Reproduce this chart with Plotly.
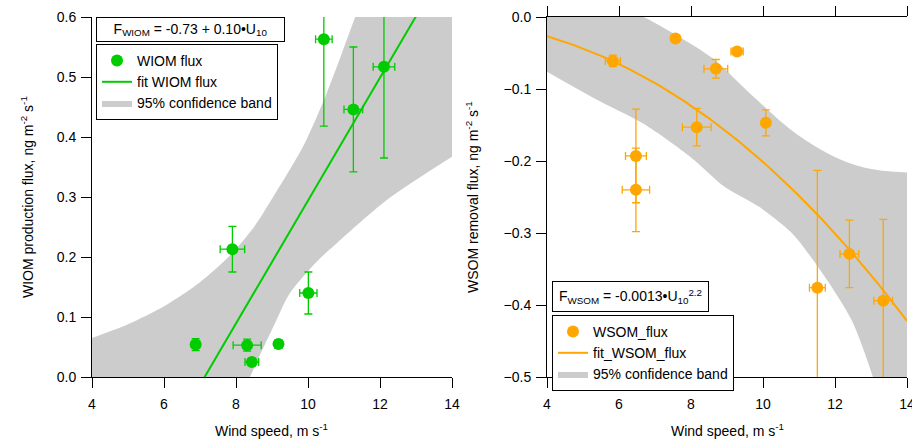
import plotly.graph_objects as go
import numpy as np

# ---------------- data ----------------
# Left panel: WIOM production flux
wiom_wind = [6.88, 7.90, 8.31, 8.44, 9.18, 10.01, 10.44, 11.26, 12.11]
wiom_flux = [0.054, 0.213, 0.053, 0.025, 0.055, 0.140, 0.563, 0.446, 0.517]
wiom_flux_err = [0.010, 0.038, 0.010, 0.006, 0.007, 0.035, 0.145, 0.104, 0.152]
wiom_wind_err = [0.05, 0.34, 0.39, 0.19, 0.06, 0.24, 0.23, 0.26, 0.30]

WIOM_FIT_A = -0.730     # intercept
WIOM_FIT_B = 0.1024     # slope

wiom_band_up_x = [4.0, 5.0, 6.0, 7.0, 7.87, 8.5, 9.0, 9.87, 10.52, 11.31, 12.0, 13.0, 14.0]
wiom_band_up_y = [0.065, 0.088, 0.118, 0.158, 0.205, 0.250, 0.297, 0.385, 0.473, 0.600, 0.714, 0.880, 1.050]
wiom_band_lo_x = [4.0, 6.0, 7.0, 7.8, 8.39, 9.04, 9.5, 10.29, 10.8, 12.19, 14.0]
wiom_band_lo_y = [-0.72, -0.40, -0.23, -0.09, 0.0, 0.084, 0.140, 0.195, 0.223, 0.295, 0.367]

# Right panel: WSOM removal flux
wsom_wind = [5.83, 6.47, 6.47, 7.57, 8.16, 8.69, 9.28, 10.08, 11.51, 12.40, 13.34]
wsom_flux = [-0.061, -0.193, -0.240, -0.030, -0.153, -0.072, -0.048, -0.147, -0.376, -0.329, -0.394]
wsom_flux_err = [0.008, 0.065, 0.058, 0.003, 0.026, 0.013, 0.005, 0.018, 0.163, 0.047, 0.113]
wsom_wind_err = [0.21, 0.29, 0.38, 0.03, 0.40, 0.33, 0.17, 0.08, 0.22, 0.26, 0.26]

WSOM_FIT_A = -0.00127
WSOM_FIT_N = 2.2

wsom_band_up_x = [4.0, 5.0, 6.0, 6.68, 7.69, 8.62, 9.55, 10.47, 11.0, 11.6, 12.2, 12.8, 13.4, 14.0]
wsom_band_up_y = [0.040, 0.030, 0.013, 0.0, -0.028, -0.058, -0.102, -0.144, -0.165, -0.184, -0.199, -0.209, -0.214, -0.216]
wsom_band_lo_x = [4.0, 5.28, 6.67, 8.0, 8.94, 9.87, 10.8, 11.72, 12.46, 13.02, 14.0]
wsom_band_lo_y = [-0.076, -0.112, -0.148, -0.195, -0.236, -0.263, -0.300, -0.361, -0.421, -0.495, -0.66]

x_ticks = [4, 6, 8, 10, 12, 14]
wiom_y_ticks = [0.0, 0.1, 0.2, 0.3, 0.4, 0.5, 0.6]
wsom_y_ticks = [0.0, -0.1, -0.2, -0.3, -0.4, -0.5]

# ---------------- styling ----------------
GREEN = "rgb(0,204,0)"
ORANGE = "rgb(255,166,0)"
GREY = "rgb(204,204,204)"
FONT = "Arial, Liberation Sans, sans-serif"
W, H = 912, 442

fig = go.Figure()

fit_x = np.linspace(4, 14, 201)

# ---- left panel ----
fig.add_trace(go.Scatter(x=wiom_band_lo_x, y=wiom_band_lo_y, mode="lines",
                         line=dict(width=0, shape="spline", smoothing=0.8),
                         showlegend=False, hoverinfo="skip", xaxis="x", yaxis="y"))
fig.add_trace(go.Scatter(x=wiom_band_up_x, y=wiom_band_up_y, mode="lines",
                         line=dict(width=0, shape="spline", smoothing=0.8),
                         fill="tonexty", fillcolor=GREY, name="95% confidence band",
                         legend="legend", legendrank=3, xaxis="x", yaxis="y"))
fig.add_trace(go.Scatter(x=fit_x, y=WIOM_FIT_A + WIOM_FIT_B * fit_x, mode="lines",
                         line=dict(color=GREEN, width=2), name="fit WIOM flux",
                         legend="legend", legendrank=2, xaxis="x", yaxis="y"))
fig.add_trace(go.Scatter(x=wiom_wind, y=wiom_flux, mode="markers",
                         marker=dict(color=GREEN, size=12),
                         error_y=dict(type="data", array=wiom_flux_err, color=GREEN, thickness=1.3, width=4),
                         error_x=dict(type="data", array=wiom_wind_err, color=GREEN, thickness=1.3, width=4),
                         name="WIOM flux", legend="legend", legendrank=1, xaxis="x", yaxis="y"))

# ---- right panel ----
fig.add_trace(go.Scatter(x=wsom_band_lo_x, y=wsom_band_lo_y, mode="lines",
                         line=dict(width=0, shape="spline", smoothing=0.8),
                         showlegend=False, hoverinfo="skip", xaxis="x2", yaxis="y2"))
fig.add_trace(go.Scatter(x=wsom_band_up_x, y=wsom_band_up_y, mode="lines",
                         line=dict(width=0, shape="spline", smoothing=0.8),
                         fill="tonexty", fillcolor=GREY, name="95% confidence band",
                         legend="legend2", legendrank=3, xaxis="x2", yaxis="y2"))
fig.add_trace(go.Scatter(x=fit_x, y=WSOM_FIT_A * fit_x ** WSOM_FIT_N, mode="lines",
                         line=dict(color=ORANGE, width=2), name="fit_WSOM_flux",
                         legend="legend2", legendrank=2, xaxis="x2", yaxis="y2"))
fig.add_trace(go.Scatter(x=wsom_wind, y=wsom_flux, mode="markers",
                         marker=dict(color=ORANGE, size=12),
                         error_y=dict(type="data", array=wsom_flux_err, color=ORANGE, thickness=1.3, width=4),
                         error_x=dict(type="data", array=wsom_wind_err, color=ORANGE, thickness=1.3, width=4),
                         name="WSOM_flux", legend="legend2", legendrank=1, xaxis="x2", yaxis="y2"))

axis_common = dict(showline=True, linecolor="black", linewidth=1, showgrid=False,
                   zeroline=False, ticks="outside", ticklen=10, tickwidth=1,
                   tickcolor="black", automargin=False, ticklabeloverflow="allow",
                   tickfont=dict(family=FONT, size=14, color="black"))

ytop = 1 - 17 / H
ybot = 1 - 377 / H

fig.update_layout(
    template="none",
    width=W, height=H,
    margin=dict(l=0, r=0, t=0, b=0, autoexpand=False),
    paper_bgcolor="white", plot_bgcolor="white",
    font=dict(family=FONT, size=14, color="black"),
    xaxis=dict(domain=[92 / W, 452 / W], range=[4, 14], tickvals=x_ticks,
               anchor="y", ticklabelstandoff=4, **axis_common),
    yaxis=dict(domain=[ybot, ytop], range=[0, 0.6], tickvals=wiom_y_ticks,
               tickformat=".1f", anchor="x", ticklabelstandoff=2, **axis_common),
    xaxis2=dict(domain=[547 / W, 907 / W], range=[4, 14], tickvals=x_ticks,
                anchor="y2", mirror="ticks", ticklabelstandoff=4, **axis_common),
    yaxis2=dict(domain=[ybot, ytop], range=[-0.5, 0], tickvals=wsom_y_ticks,
                tickformat=".1f", anchor="x2", ticklabelstandoff=2, **axis_common),
    legend=dict(x=96 / W, y=1 - 44 / H, xanchor="left", yanchor="top",
                bordercolor="black", borderwidth=1, bgcolor="white",
                font=dict(family=FONT, size=14, color="black"),
                traceorder="normal", tracegroupgap=0),
    legend2=dict(x=552 / W, y=1 - 315 / H, xanchor="left", yanchor="top",
                 bordercolor="black", borderwidth=1, bgcolor="white",
                 font=dict(family=FONT, size=14, color="black"),
                 traceorder="normal", tracegroupgap=0),
    showlegend=True,
)

annotations = [
    # equation boxes
    dict(text="F<sub>WIOM</sub> = -0.73 + 0.10•U<sub>10</sub>", xref="paper", yref="paper",
         x=95.5 / W, y=1 - 17 / H, xanchor="left", yanchor="top", showarrow=False,
         width=185, height=21, borderpad=1, bordercolor="black", borderwidth=1,
         bgcolor="white", font=dict(family=FONT, size=14, color="black")),
    dict(text="F<sub>WSOM</sub> = -0.0013•U<sub>10</sub><sup>2.2</sup>", xref="paper", yref="paper",
         x=552 / W, y=1 - 281 / H, xanchor="left", yanchor="top", showarrow=False,
         width=153, height=27, borderpad=1, bordercolor="black", borderwidth=1,
         bgcolor="white", font=dict(family=FONT, size=14, color="black")),
    # axis titles
    dict(text="WIOM production flux, ng m<sup>-2</sup> s<sup>-1</sup>", xref="paper", yref="paper",
         x=27 / W, y=1 - 197 / H, xanchor="center", yanchor="middle", textangle=-90, showarrow=False,
         font=dict(family=FONT, size=14, color="black")),
    dict(text="WSOM removal flux, ng m<sup>-2</sup> s<sup>-1</sup>", xref="paper", yref="paper",
         x=472 / W, y=1 - 197 / H, xanchor="center", yanchor="middle", textangle=-90, showarrow=False,
         font=dict(family=FONT, size=14, color="black")),
    dict(text="Wind speed, m s<sup>-1</sup>", xref="paper", yref="paper",
         x=271 / W, y=1 - 430 / H, xanchor="center", yanchor="middle", showarrow=False,
         font=dict(family=FONT, size=14, color="black")),
    dict(text="Wind speed, m s<sup>-1</sup>", xref="paper", yref="paper",
         x=727 / W, y=1 - 430 / H, xanchor="center", yanchor="middle", showarrow=False,
         font=dict(family=FONT, size=14, color="black")),
]
fig.update_layout(annotations=annotations)

fig.write_html("out.html")
